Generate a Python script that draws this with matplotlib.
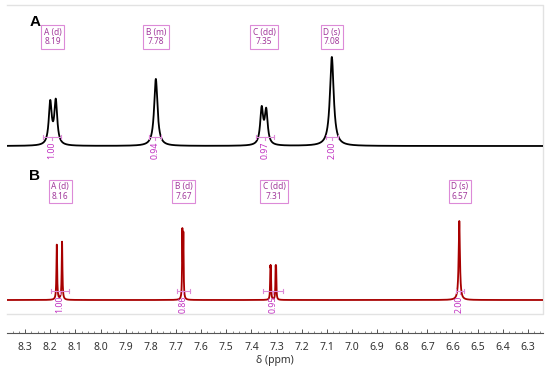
import numpy as np
import matplotlib.pyplot as plt
from matplotlib.ticker import MultipleLocator

# ------------------------------------------------------------
# 1H NMR stack: spectrum A (black, top) and B (red, bottom)
# ------------------------------------------------------------

# spectrum A : line list
linesA_ppm = [8.200, 8.178, 7.780, 7.359, 7.341, 7.080]
linesA_amp = [42.0, 43.5, 67.0, 35.5, 33.5, 89.0]
linesA_hw = [0.007, 0.007, 0.008, 0.007, 0.007, 0.009]

labelsA = ["A (d)", "B (m)", "C (dd)", "D (s)"]
shiftsA = [8.19, 7.78, 7.35, 7.08]
integA = ["1.00", "0.94", "0.97", "2.00"]
integA_from = [8.228, 7.807, 7.382, 7.104]
integA_to = [8.157, 7.759, 7.310, 7.055]

# spectrum B
linesB_ppm = [8.174, 8.153, 7.6745, 7.6705, 7.3245, 7.3225, 7.3035, 7.3015, 6.573]
linesB_amp = [55.0, 58.0, 66.0, 62.0, 27.0, 27.0, 27.0, 27.0, 79.0]
linesB_hw = [0.0017, 0.0017, 0.0013, 0.0013, 0.0012, 0.0012, 0.0012, 0.0012, 0.003]

labelsB = ["A (d)", "B (d)", "C (dd)", "D (s)"]
shiftsB = [8.16, 7.67, 7.31, 6.57]
integB = ["1.00", "0.86", "0.95", "2.00"]
integB_from = [8.198, 7.697, 7.354, 6.588]
integB_to = [8.125, 7.644, 7.274, 6.556]

offsetA = 154.0
offsetB = 0.0

XMIN, XMAX = 8.372, 6.240
YBOT, YTOP = -24, 295   # axes range (frame bottom drawn at -14)
FRAME_BOT = -14

plt.rcParams['font.family'] = ['Noto Sans', 'DejaVu Sans']

MAG = "#c030c0"
MAG_LIGHT = "#dc8ad8"
BOX_TXT = "#a23a9c"
FRAME = "#e2e2e2"


def lorentz_sum(x, pos, amp, hw):
    y = np.zeros_like(x)
    for p, a, w in zip(pos, amp, hw):
        y += a * w**2 / ((x - p)**2 + w**2)
    return y


x = np.linspace(XMIN, XMAX, 40000)
yA = lorentz_sum(x, linesA_ppm, linesA_amp, linesA_hw)
yB = lorentz_sum(x, linesB_ppm, linesB_amp, linesB_hw)

fig = plt.figure(figsize=(5.5, 3.66), dpi=100)
ax = fig.add_axes([7 / 550, 1 - 324 / 366, 536 / 550, 319 / 366])

# frame (top, right, bottom) in light gray
ax.plot([XMIN, XMAX, XMAX, XMIN], [YTOP, YTOP, FRAME_BOT, FRAME_BOT],
        color=FRAME, lw=1.0, clip_on=False, zorder=1)

ax.plot(x, yA + offsetA, color="black", lw=1.3)
ax.plot(x, yB + offsetB, color="#a80000", lw=1.3)


def annotate(labels, shifts, integ, i_from, i_to, off, box_y):
    for lab, s in zip(labels, shifts):
        ax.text(s, off + box_y, f"{lab}\n{s:.2f}", ha="center", va="center",
                fontsize=6, color=BOX_TXT, linespacing=1.05,
                bbox=dict(boxstyle="square,pad=0.3", fc="white",
                          ec=MAG_LIGHT, lw=0.8))
    for txt, a, b in zip(integ, i_from, i_to):
        yb = off + 9
        ax.plot([a, b], [yb, yb], color=MAG_LIGHT, lw=0.8)
        ax.plot([a, a], [yb - 2, yb + 2], color=MAG_LIGHT, lw=0.8)
        ax.plot([b, b], [yb - 2, yb + 2], color=MAG_LIGHT, lw=0.8)
        c = (a + b) / 2
        ax.plot([c, c], [yb, yb - 3], color=MAG_LIGHT, lw=0.8)
        ax.text(c, yb - 4.5, txt, rotation=90, ha="center", va="top",
                fontsize=6.3, color=MAG, clip_on=False, zorder=5)


annotate(labelsA, shiftsA, integA, integA_from, integA_to, offsetA, 109)
annotate(labelsB, shiftsB, integB, integB_from, integB_to, offsetB, 108.5)

ax.text(8.262, 278, "A", ha="center", va="center", fontsize=11,
        fontweight="bold", family="Liberation Sans")
ax.text(8.262, 124.5, "B", ha="center", va="center", fontsize=11,
        fontweight="bold", family="Liberation Sans")

ax.set_xlim(XMIN, XMAX)
ax.set_ylim(YBOT, YTOP)

for side in ["top", "right", "left"]:
    ax.spines[side].set_visible(False)
ax.spines["bottom"].set_position(("outward", 6.5))
ax.spines["bottom"].set_color("#555555")
ax.spines["bottom"].set_linewidth(0.8)
ax.set_yticks([])
ax.xaxis.set_major_locator(MultipleLocator(0.1))
ax.xaxis.set_minor_locator(MultipleLocator(0.025))
ax.tick_params(axis="x", which="major", direction="in", length=3,
               width=0.7, color="#555555", labelsize=7.5,
               labelcolor="#333333", pad=6.5)
ax.tick_params(axis="x", which="minor", direction="in", length=1.5,
               width=0.6, color="#777777")
ax.set_xlabel("δ (ppm)", fontsize=7.5, color="#333333", labelpad=1.5)

fig.savefig("out.png", dpi=100)
